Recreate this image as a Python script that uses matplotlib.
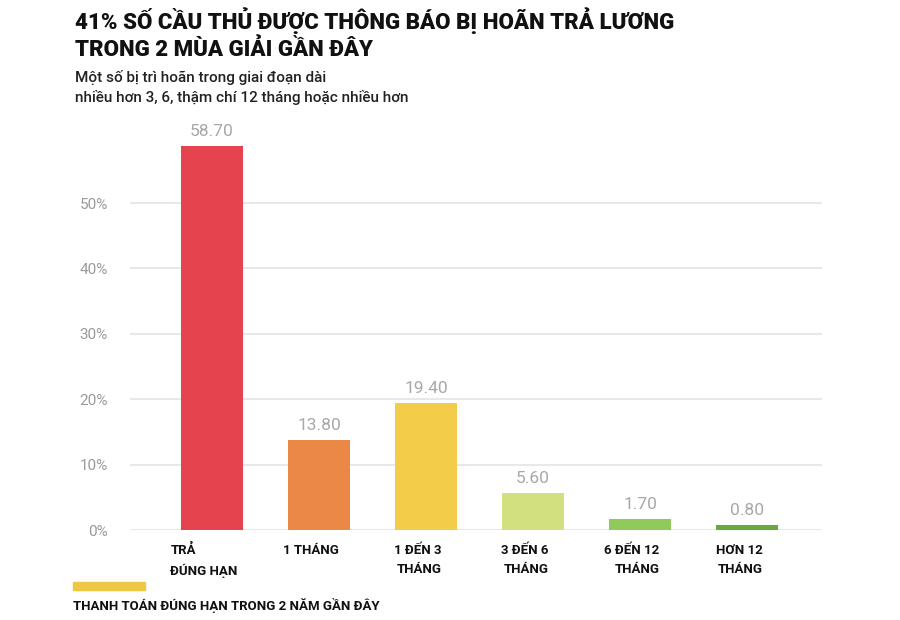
import matplotlib
matplotlib.use('Agg')
import matplotlib.pyplot as plt
import matplotlib.transforms as mtransforms
from matplotlib.patches import Rectangle

categories = ['TRẢ\nĐÚNG HẠN', '1 THÁNG', '1 ĐẾN 3\nTHÁNG', '3 ĐẾN 6\nTHÁNG', '6 ĐẾN 12\nTHÁNG', 'HƠN 12\nTHÁNG']
values = [58.70, 13.80, 19.40, 5.60, 1.70, 0.80]
colors = ['#E5434D', '#EC8845', '#F3CD4A', '#D3E080', '#8ECB5B', '#6AA93D']
yticks = [0, 10, 20, 30, 40, 50]

title = '41% SỐ CẦU THỦ ĐƯỢC THÔNG BÁO BỊ HOÃN TRẢ LƯƠNG\nTRONG 2 MÙA GIẢI GẦN ĐÂY'
subtitle = 'Một số bị trì hoãn trong giai đoạn dài\nnhiều hơn 3, 6, thậm chí 12 tháng hoặc nhiều hơn'
legend_text = 'THANH TOÁN ĐÚNG HẠN TRONG 2 NĂM GẦN ĐÂY'

plt.rcParams['font.family'] = ['Roboto', 'DejaVu Sans']

fig = plt.figure(figsize=(9, 6.2), dpi=100)
ax = fig.add_axes((130 / 900, 90 / 620, 692 / 900, 392.4 / 620))

x = list(range(len(values)))
ax.bar(x, values, width=0.58, color=colors, zorder=3)
ax.set_xlim(-0.766, 5.70)
ax.set_ylim(0, 60)

ax.set_yticks(yticks)
ax.yaxis.grid(True, color='#e8e8e8', linewidth=1.5, zorder=0)
ax.set_yticklabels(['{}%'.format(t) for t in yticks], color='#9a9a9a', fontsize=11)
ax.tick_params(axis='y', length=0, pad=16)
ax.set_xticks([])
for s in ax.spines.values():
    s.set_visible(False)

for xi, v in zip(x, values):
    ax.annotate('{:.2f}'.format(v), (xi, v), xytext=(0, 5), textcoords='offset points',
                ha='center', va='bottom', color='#a8a8a8', fontsize=12.5)

shift = mtransforms.ScaledTranslation(-8 / 100, 0, fig.dpi_scale_trans)
for xi, lab in zip(x, categories):
    ax.text(xi, -2.1, lab, ha='center', va='top', fontsize=9.5, fontweight='bold',
            color='#111111', linespacing=1.6, multialignment='left' if xi == 0 else 'right',
            transform=ax.transData + shift)

fig.text(75 / 900, 1 - 7 / 620, title, ha='left', va='top', fontsize=16, fontweight='heavy',
         color='#111111', linespacing=1.3)
fig.text(75 / 900, 1 - 70 / 620, subtitle, ha='left', va='top', fontsize=11,
         fontweight='medium', color='#222222', linespacing=1.4)

fig.patches.append(Rectangle((73 / 900, 1 - 590 / 620), 72 / 900, 8 / 620,
                             transform=fig.transFigure, color='#EEC845'))
fig.text(73 / 900, 1 - 598 / 620, legend_text, ha='left', va='top', fontsize=9.5,
         fontweight='bold', color='#111111')

fig.savefig('out.png', dpi=100)
